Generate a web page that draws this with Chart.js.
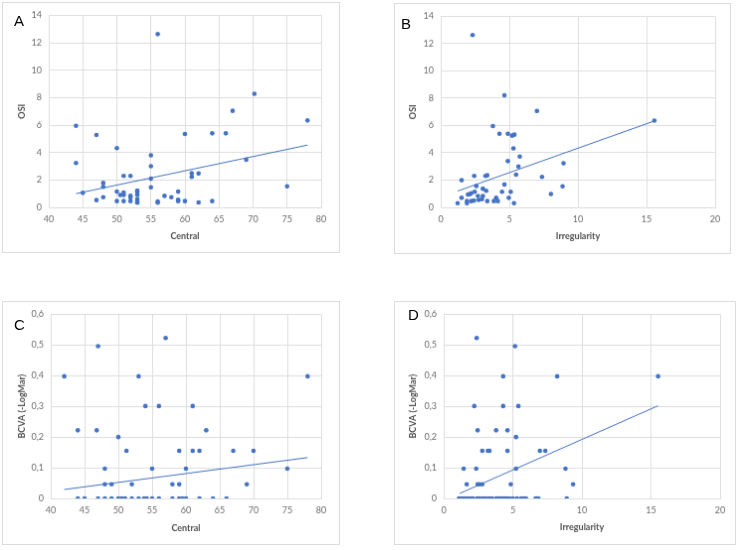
<!DOCTYPE html>
<html>
<head>
<meta charset="utf-8">
<script src="https://cdn.jsdelivr.net/npm/chart.js@4/dist/chart.umd.min.js"></script>
<style>
  body { margin: 0; background: #fff; width: 740px; height: 550px; position: relative; overflow: hidden; }
  canvas { position: absolute; border: 1px solid #dcdcdc; }
  .lbl { position: absolute; font-family: "Liberation Sans", Arial, sans-serif; font-size: 15px; color: #000; }
</style>
</head>
<body>
<canvas id="chartA" width="338" height="251" style="left:2px;top:2px"></canvas>
<canvas id="chartB" width="337" height="251" style="left:394px;top:3px"></canvas>
<canvas id="chartC" width="338" height="244" style="left:2px;top:301px"></canvas>
<canvas id="chartD" width="342" height="244" style="left:394px;top:301px"></canvas>
<div class="lbl" style="left:14px;top:12px">A</div>
<div class="lbl" style="left:401px;top:15px">B</div>
<div class="lbl" style="left:14px;top:316px">C</div>
<div class="lbl" style="left:408px;top:306px">D</div>
<script>
// Panel A: Central vs OSI
const centralA = [44,44,45,47,47,48,48,48,50,50,50,50.5,51,51,51,51,52,52,52,52,53,53,53,53,53,53,55,55,55,55,56,56,56,57,58,59,59,59,60,60,61,61,62,62,64,64,66,67,69,70.2,75,78];
const osiA = [5.95,3.24,1.06,5.28,0.53,1.78,1.5,0.74,4.32,1.15,0.46,0.9,1.08,0.9,2.3,0.46,2.3,0.84,0.72,0.46,1.22,1.08,0.9,0.6,0.46,0.34,3.8,3.0,2.09,1.46,12.63,0.43,0.34,0.84,0.74,1.15,0.55,0.46,5.35,0.46,2.5,2.23,2.47,0.36,5.4,0.46,5.4,7.04,3.48,8.28,1.54,6.34];
// linear trendline (ends at first / last x)
const trendXA = [44, 78];
const trendYA = [1.0, 4.54];

// Panel B: Irregularity vs OSI
const irregB = [2.32,4.64,7.01,15.57,3.80,4.28,4.89,5.20,5.37,5.30,5.76,4.89,8.95,5.66,5.49,3.39,3.26,2.44,7.38,1.52,4.64,2.59,8.88,3.07,3.31,2.47,4.47,5.10,2.22,1.98,2.10,2.71,3.07,8.03,1.52,4.04,4.96,1.91,2.22,2.42,2.76,3.0,3.39,3.87,4.16,1.23,1.91,5.34];
const osiB = [12.63,8.21,7.06,6.36,5.96,5.40,5.40,5.26,5.33,4.32,3.72,3.39,3.24,3.0,2.40,2.35,2.31,2.31,2.23,1.99,1.68,1.56,1.54,1.37,1.22,1.15,1.15,1.15,1.03,0.94,0.96,0.84,0.84,0.98,0.70,0.70,0.70,0.46,0.46,0.50,0.55,0.6,0.46,0.46,0.46,0.31,0.31,0.31];
const trendXB = [1.23, 15.57];
const trendYB = [1.2, 6.33];

// Panel C: Central vs BCVA
const centralC = [42,44,44,45,46.8,47,47,48,48,48,49,49,50,50,50.5,51,51.2,52,52,53,53,54,53.8,54.2,55,55,56,56,57,58,58,59,59,59,59.5,60,60,61,61,62,62,63,64,66,67,69,70,75,78];
const bcvaC = [0.398,0.222,0,0,0.222,0.496,0,0.097,0.046,0,0.046,0,0.2,0,0,0,0.155,0.046,0,0.398,0,0.301,0,0,0.097,0,0.301,0,0.523,0.046,0,0.155,0.046,0,0,0,0.097,0.301,0.155,0.155,0,0.222,0,0,0.155,0.046,0.155,0.097,0.398];
const trendXC = [42, 78];
const trendYC = [0.029, 0.133];

// Panel D: Irregularity vs BCVA
const irregD = [2.38,5.16,4.30,8.21,15.51,2.21,4.30,5.40,2.45,3.79,4.61,5.23,2.79,3.19,3.31,4.61,6.96,7.35,1.44,2.35,5.23,8.81,1.66,2.45,2.59,2.79,4.85,9.36,
  1.1,1.3,1.5,1.7,1.9,2.1,2.4,2.6,2.85,3.05,3.3,3.5,3.8,3.95,4.1,4.25,4.4,4.55,4.75,5.0,5.3,5.6,5.8,5.95,6.65,6.75,6.85,8.9];
const bcvaD = [0.523,0.496,0.398,0.398,0.398,0.301,0.301,0.301,0.222,0.222,0.222,0.2,0.155,0.155,0.155,0.155,0.155,0.155,0.097,0.097,0.097,0.097,0.046,0.046,0.046,0.046,0.046,0.046,
  0,0,0,0,0,0,0,0,0,0,0,0,0,0,0,0,0,0,0,0,0,0,0,0,0,0,0,0];
const trendXD = [1.15, 15.51];
const trendYD = [0.016, 0.302];

const blue = '#4472C4';
const tickColor = '#6b6b6b';
const gridColor = '#dedede';

function comma(v) {
  return v === 0 ? '0' : v.toFixed(1).replace('.', ',');
}

function makeChart(id, xs, ys, tx, ty, o) {
  const pts = xs.map((x, i) => ({x, y: ys[i]}));
  const line = tx.map((x, i) => ({x, y: ty[i]}));
  new Chart(document.getElementById(id), {
    type: 'scatter',
    data: {
      datasets: [
        {data: pts, backgroundColor: blue, borderColor: blue, pointRadius: 2.3, pointBorderWidth: 0},
        {type: 'line', data: line, borderColor: blue, borderWidth: 1, pointRadius: 0, fill: false}
      ]
    },
    options: {
      responsive: false,
      animation: false,
      layout: {padding: o.pad},
      plugins: {legend: {display: false}, tooltip: {enabled: false}},
      scales: {
        x: {
          type: 'linear', min: o.xmin, max: o.xmax,
          ticks: {stepSize: o.xstep, color: tickColor, font: {family: 'Lato', size: 9}, padding: 7, maxRotation: 0},
          grid: {color: gridColor, drawTicks: false},
          border: {color: gridColor},
          title: {display: true, text: o.xtitle, color: '#505050', font: {family: 'Lato', size: 9, weight: 'bold'}},
          afterFit: s => { s.height = o.xh; }
        },
        y: {
          min: 0, max: o.ymax,
          ticks: {stepSize: o.ystep, color: tickColor, font: {family: 'Lato', size: 9}, padding: 7, callback: o.yfmt},
          grid: {color: gridColor, drawTicks: false},
          border: {display: false},
          title: {display: true, text: o.ytitle, color: '#505050', font: {family: 'Lato', size: 9, weight: 'bold'}},
          afterFit: s => { s.width = o.yw; }
        }
      }
    }
  });
}

makeChart('chartA', centralA, osiA, trendXA, trendYA, {pad: {left: 10, top: 12, right: 18, bottom: 7}, xh: 38, yw: 36,
  xmin: 40, xmax: 80, xstep: 5, ymax: 14, ystep: 2, xtitle: 'Central', ytitle: 'OSI', yfmt: v => v});
makeChart('chartB', irregB, osiB, trendXB, trendYB, {pad: {left: 9, top: 11, right: 15, bottom: 8}, xh: 38, yw: 37,
  xmin: 0, xmax: 20, xstep: 5, ymax: 14, ystep: 2, xtitle: 'Irregularity', ytitle: 'OSI', yfmt: v => v});
makeChart('chartC', centralC, bcvaC, trendXC, trendYC, {pad: {left: 10, top: 11, right: 18, bottom: 7}, xh: 39, yw: 38,
  xmin: 40, xmax: 80, xstep: 5, ymax: 0.6, ystep: 0.1, xtitle: 'Central', ytitle: 'BCVA (-LogMar)', yfmt: comma});
makeChart('chartD', irregD, bcvaD, trendXD, trendYD, {pad: {left: 9, top: 11, right: 15, bottom: 8}, xh: 38, yw: 40,
  xmin: 0, xmax: 20, xstep: 5, ymax: 0.6, ystep: 0.1, xtitle: 'Irregularity', ytitle: 'BCVA (-LogMar)', yfmt: comma});
</script>
</body>
</html>
